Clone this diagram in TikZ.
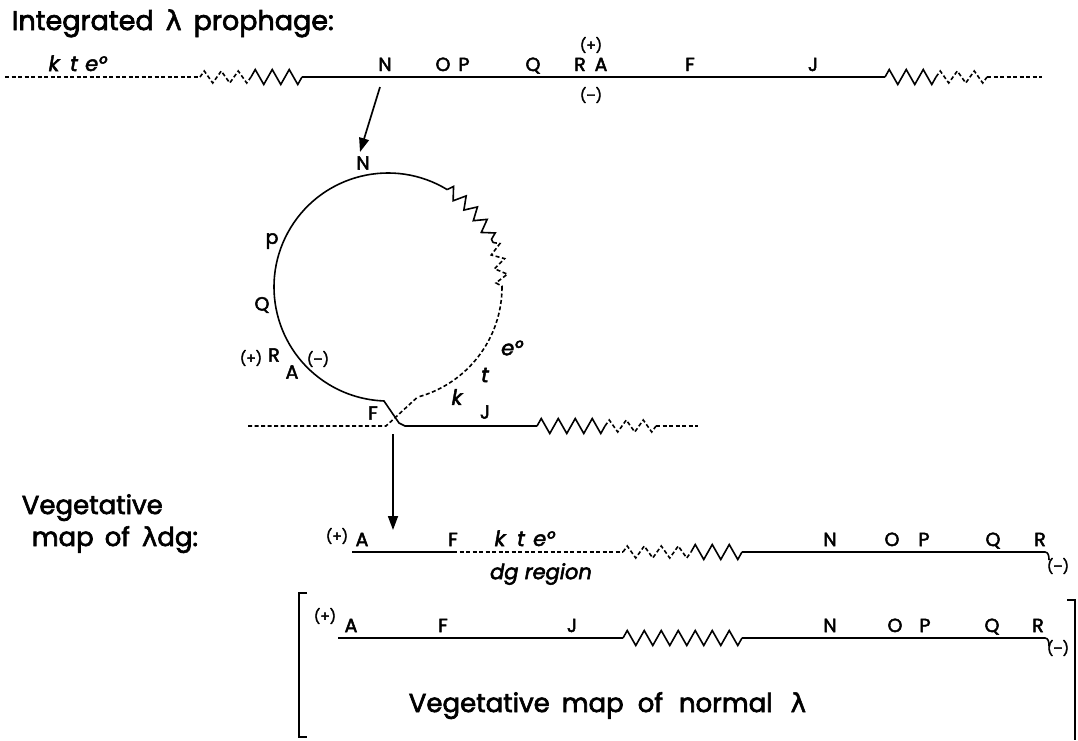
\documentclass[tikz,border=0pt]{standalone}
\usepackage{fontspec}
\setmainfont{Poppins}[FakeBold=2.5]
\newfontfamily\grk{DejaVu Sans}[FakeBold=2]
\usetikzlibrary{decorations.pathmorphing,arrows.meta}
\newcommand\lam{{\grk λ}}
\begin{document}
\begin{tikzpicture}[x=1pt,y=-1pt,line width=1.6pt,
  dsh/.style={dash pattern=on 4pt off 2.5pt},
  zz/.style={decorate,decoration={zigzag,segment length=17pt,amplitude=7.5pt}},
  zc/.style={decorate,decoration={zigzag,segment length=15pt,amplitude=6pt}},
  lab/.style={font=\fontsize{19}{19}\selectfont,inner sep=0pt,anchor=base},
  itl/.style={font=\fontsize{21}{21}\selectfont\itshape,inner sep=0pt,anchor=base},
  sm/.style={font=\fontsize{14}{14}\selectfont,inner sep=0pt},
  big/.style={font=\fontsize{26}{26}\selectfont,inner sep=0pt,anchor=base west},
  arr/.style={-{Triangle[length=14pt,width=10pt]},line width=1.7pt}]
\useasboundingbox (0,0) rectangle (1078,740);

% title
\node[big,font=\fontsize{27}{27}\selectfont] (title) at (11,30)
  {Integrated\hspace{12pt}\lam\hspace{12pt}prophage:};

% ---------- top line ----------
\coordinate (t0) at (5,77);
\coordinate (t1) at (200,77);
\coordinate (t2) at (251,77);
\coordinate (t3) at (302,77);
\coordinate (t4) at (885,77);
\coordinate (t5) at (936,77);
\coordinate (t6) at (987,77);
\coordinate (t7) at (1042,77);
\draw[dsh] (t0) -- (t1);
\draw[zz,dsh,decoration={amplitude=6pt}] (t1) -- (t2);
\draw[zz] (t2) -- (t3);
\draw (t3) -- (t4);
\draw[zz] (t4) -- (t5);
\draw[zz,dsh,decoration={amplitude=6pt}] (t5) -- (t6);
\draw[dsh] (t6) -- (t7);

\node[itl] (tk) at (54,71) {k};
\node[itl] (tt) at (74,71) {t};
\node[itl] (te) at (96,71) {e°};
\node[lab] (tN) at (385,71) {N};
\node[lab] (tO) at (443,71) {O};
\node[lab] (tP) at (464,71) {P};
\node[lab] (tQ) at (533,71) {Q};
\node[lab] (tR) at (580,71) {R};
\node[lab] (tA) at (601,71) {A};
\node[sm] (tplus) at (591,45) {(+)};
\node[sm] (tminus) at (591,95) {(–)};
\node[lab] (tF) at (690,71) {F};
\node[lab] (tJ) at (813,71) {J};

% arrow to circle
\coordinate (a1) at (380,87);
\coordinate (a2) at (360,152);
\draw[arr] (a1) -- (a2);

% ---------- circle ----------
\coordinate (C) at (388,287);
\draw (C) ++(-58.7:114) arc[start angle=-58.7,end angle=-266,radius=114]
  coordinate (cs);
\draw[zc] (C) ++(-58.7:114) arc[start angle=-58.7,end angle=-23,radius=114];
\draw[zc,dsh] (C) ++(-23:114) arc[start angle=-23,end angle=0,radius=114];
\draw[dsh] (C) ++(0:114) arc[start angle=0,end angle=75,radius=114] coordinate (ce);

% crossing and bottom chromosome (y=426)
\coordinate (b0) at (248,426);
\coordinate (bx1) at (386,426);
\coordinate (bx2) at (384,401);
\coordinate (bx3) at (399,423);
\coordinate (b1) at (405,426);
\coordinate (b2) at (537,426);
\coordinate (b3) at (605,426);
\coordinate (b4) at (656,426);
\coordinate (b5) at (698,426);
\draw[dsh] (b0) -- (bx1) -- (ce);
\draw (cs) -- (bx2) -- (bx3) -- (b1) -- (b2);
\draw[zz] (b2) -- (b3);
\draw[zz,dsh,decoration={amplitude=6pt}] (b3) -- (b4);
\draw[dsh] (b4) -- (b5);

\node[lab,anchor=center] (cN) at (363,163) {N};
\node[lab,anchor=center] (cP) at (272,241) {p};
\node[lab,anchor=center] (cQ) at (262,305) {Q};
\node[sm] (cplus) at (251,358) {(+)};
\node[lab,anchor=center] (cR) at (274,355) {R};
\node[lab,anchor=center] (cA) at (292,372) {A};
\node[sm] (cminus) at (318,359) {(–)};
\node[itl,anchor=center] (ck) at (457,397) {k};
\node[itl,anchor=center] (ct) at (485,375) {t};
\node[itl,anchor=center] (ce2) at (512,348) {e°};
\node[lab,anchor=center] (bF) at (373,413) {F};
\node[lab,anchor=center] (bJ) at (485,412) {J};

% arrow down
\coordinate (v1) at (393,434);
\coordinate (v2) at (393,530);
\draw[arr] (v1) -- (v2);

% ---------- lambda dg ----------
\node[big] (veg1) at (21,514) {Vegetative};
\node[big] (veg2) at (31,546) {map\hspace{11pt}of\hspace{12pt}\lam dg:};

\coordinate (d0) at (352,552);
\coordinate (d1) at (453,552);
\coordinate (d2) at (623,552);
\coordinate (d3) at (691,552);
\coordinate (d4) at (742,552);
\coordinate (d5) at (1045,552);
\coordinate (d6) at (1049,560);
\draw (d0) -- (d1);
\draw[dsh] (d1) -- (d2);
\draw[zz,dsh,decoration={amplitude=6pt}] (d2) -- (d3);
\draw[zz] (d3) -- (d4);
\draw (d4) -- (d5) to[out=0,in=90] (d6);

\node[sm] (dplus) at (337,536) {(+)};
\node[lab] (dA) at (362,546) {A};
\node[lab] (dF) at (453,546) {F};
\node[itl] (dk) at (500,546) {k};
\node[itl] (dt) at (521,546) {t};
\node[itl] (de) at (544,546) {e°};
\node[itl,anchor=center] (dg) at (541,574) {dg region};
\node[lab] (dN) at (830,546) {N};
\node[lab] (dO) at (892,546) {O};
\node[lab] (dP) at (924,546) {P};
\node[lab] (dQ) at (993,546) {Q};
\node[lab] (dR) at (1040,546) {R};
\node[sm] (dminus) at (1058,566) {(–)};

% ---------- normal lambda ----------
\coordinate (k1) at (307,593);
\coordinate (k2) at (299,593);
\coordinate (k3) at (299,737);
\coordinate (k4) at (307,737);
\draw[line width=1.3pt] (k1) -- (k2) -- (k3) -- (k4);
\coordinate (m1) at (1067,600);
\coordinate (m2) at (1075,600);
\coordinate (m3) at (1075,740);
\draw[line width=1.3pt] (m1) -- (m2) -- (m3);

\coordinate (n0) at (338,638);
\coordinate (n1) at (623,638);
\coordinate (n2) at (742,638);
\coordinate (n3) at (1045,638);
\coordinate (n4) at (1049,646);
\draw (n0) -- (n1);
\draw[zz] (n1) -- (n2);
\draw (n2) -- (n3) to[out=0,in=90] (n4);

\node[sm] (nplus) at (325,616) {(+)};
\node[lab] (nA) at (351,632) {A};
\node[lab] (nF) at (443,632) {F};
\node[lab] (nJ) at (572,632) {J};
\node[lab] (nN) at (830,632) {N};
\node[lab] (nO) at (895,632) {O};
\node[lab] (nP) at (925,632) {P};
\node[lab] (nQ) at (992,632) {Q};
\node[lab] (nR) at (1038,632) {R};
\node[sm] (nminus) at (1058,648) {(–)};

\node[big] (normal) at (408,712)
  {Vegetative\hspace{12pt}map\hspace{14pt}of\hspace{16pt}normal\hspace{18pt}\lam};
\end{tikzpicture}
\end{document}
